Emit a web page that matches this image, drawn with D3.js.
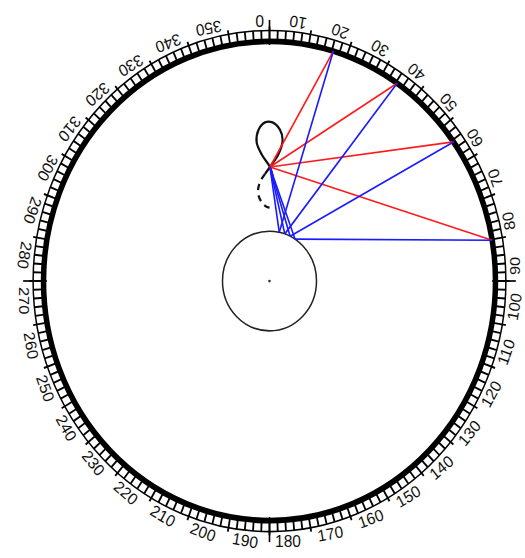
<!DOCTYPE html>
<html><head><meta charset="utf-8">
<script src="https://cdn.jsdelivr.net/npm/d3@7"></script>
<style>html,body{margin:0;padding:0;background:#fff;}svg{display:block;}</style>
</head><body>
<svg id="chart" width="525" height="558"></svg>
<script>
// ---- data (chart units: celestial sphere radius = 10) ----
const sphereRadius = 10;
const orbitRadius = 2.08;
const degreeLabels = [0,10,20,30,40,50,60,70,80,90,100,110,120,130,140,150,160,170,
  180,190,200,210,220,230,240,250,260,270,280,290,300,310,320,330,340,350];
const cardinalTicks = [0, 90, 180, 270];
const rimAngles = [16.4, 34.4, 54.5, 80.2];      // where lines hit the sphere (deg)
const earthAngles = [12, 19, 26, 33];           // observer positions on small circle (deg)
const objectPoint = [0.02, 4.76];               // loop crossing point
const loopSolidX = [0.15, 0.02, -0.33, -0.57, -0.48, -0.20, 0.13, 0.46, 0.58, 0.40, 0.02, -0.20];
const loopSolidY = [4.34, 4.76, 5.26, 5.80, 6.32, 6.62, 6.62, 6.32, 5.88, 5.30, 4.76, 4.47];
const loopDashX = [-0.20, -0.42, -0.51, -0.38, -0.11, 0.24];
const loopDashY = [4.47, 4.13, 3.71, 3.34, 3.09, 3.05];

// ---- layout ----
const cx = 269.5, cy = 265.1, R = 226, stretch = 1.06;
const svg = d3.select("#chart");
const g = svg.append("g").attr("transform", `scale(1,${stretch})`);
const x = d3.scaleLinear().domain([-10, 10]).range([cx - R, cx + R]);
const y = d3.scaleLinear().domain([-10, 10]).range([cy + R, cy - R]);
const r = d3.scaleLinear().domain([0, 10]).range([0, R]);
const rad = a => a * Math.PI / 180;
const polar = (a, rho) => [rho * Math.sin(rad(a)), rho * Math.cos(rad(a))];

// ---- ring ----
g.append("circle").attr("cx", x(0)).attr("cy", y(0)).attr("r", r(10.46))
  .attr("fill", "none").attr("stroke", "#000").attr("stroke-width", 1.5);
const minor = d3.range(0, 360, 2);
g.selectAll("line.minor").data(minor).enter().append("line")
  .attr("x1", d => x(polar(d, 10)[0])).attr("y1", d => y(polar(d, 10)[1]))
  .attr("x2", d => x(polar(d, d % 10 === 0 ? 10.62 : 10.46)[0]))
  .attr("y2", d => y(polar(d, d % 10 === 0 ? 10.62 : 10.46)[1]))
  .attr("stroke", "#000").attr("stroke-width", 1.8);
g.append("circle").attr("cx", x(0)).attr("cy", y(0)).attr("r", r(10))
  .attr("fill", "none").attr("stroke", "#000").attr("stroke-width", 5.5);
g.selectAll("line.card").data(cardinalTicks).enter().append("line")
  .attr("x1", d => x(polar(d, 9.85)[0])).attr("y1", d => y(polar(d, 9.85)[1]))
  .attr("x2", d => x(polar(d, 10.9)[0])).attr("y2", d => y(polar(d, 10.9)[1]))
  .attr("stroke", "#000").attr("stroke-width", 1.6);

// labels
g.selectAll("text.lab").data(degreeLabels).enter().append("text")
  .attr("transform", d => {
    const p = polar(d - 1.3, 10.85);
    return `translate(${x(p[0])},${y(p[1])}) rotate(${d + 180})`;
  })
  .attr("text-anchor", "start").attr("dy", "0.36em")
  .attr("font-family", "Liberation Sans, Arial, sans-serif").attr("font-size", 15.5)
  .attr("fill", "#111").text(d => d);

// ---- small circle ----
g.append("circle").attr("cx", x(0)).attr("cy", y(0)).attr("r", r(orbitRadius))
  .attr("fill", "none").attr("stroke", "#222").attr("stroke-width", 1.5);
g.append("circle").attr("cx", x(0)).attr("cy", y(0)).attr("r", 1.3).attr("fill", "#333");

// ---- loop ----
const line = d3.line().x(d => x(d[0])).y(d => y(d[1])).curve(d3.curveCatmullRom);
g.append("path").attr("d", line(loopSolidX.map((v, i) => [v, loopSolidY[i]])))
  .attr("fill", "none").attr("stroke", "#111").attr("stroke-width", 2.2);
g.append("path").attr("d", line(loopDashX.map((v, i) => [v, loopDashY[i]])))
  .attr("fill", "none").attr("stroke", "#111").attr("stroke-width", 2.2)
  .attr("stroke-dasharray", "6,5");

// ---- sight lines ----
const rimPts = rimAngles.map(a => polar(a, sphereRadius));
const earthPts = earthAngles.map(a => polar(a, orbitRadius));
g.selectAll("line.red").data(rimPts).enter().append("line")
  .attr("x1", x(objectPoint[0])).attr("y1", y(objectPoint[1]))
  .attr("x2", d => x(d[0])).attr("y2", d => y(d[1]))
  .attr("stroke", "#ff1a1a").attr("stroke-width", 1.6);
g.selectAll("line.blue1").data(earthPts).enter().append("line")
  .attr("x1", d => x(d[0])).attr("y1", d => y(d[1]))
  .attr("x2", x(objectPoint[0])).attr("y2", y(objectPoint[1]))
  .attr("stroke", "#1a1aff").attr("stroke-width", 1.6);
g.selectAll("line.blue2").data(earthPts).enter().append("line")
  .attr("x1", d => x(d[0])).attr("y1", d => y(d[1]))
  .attr("x2", (d, i) => x(rimPts[i][0])).attr("y2", (d, i) => y(rimPts[i][1]))
  .attr("stroke", "#1a1aff").attr("stroke-width", 1.6);
</script>
</body></html>
